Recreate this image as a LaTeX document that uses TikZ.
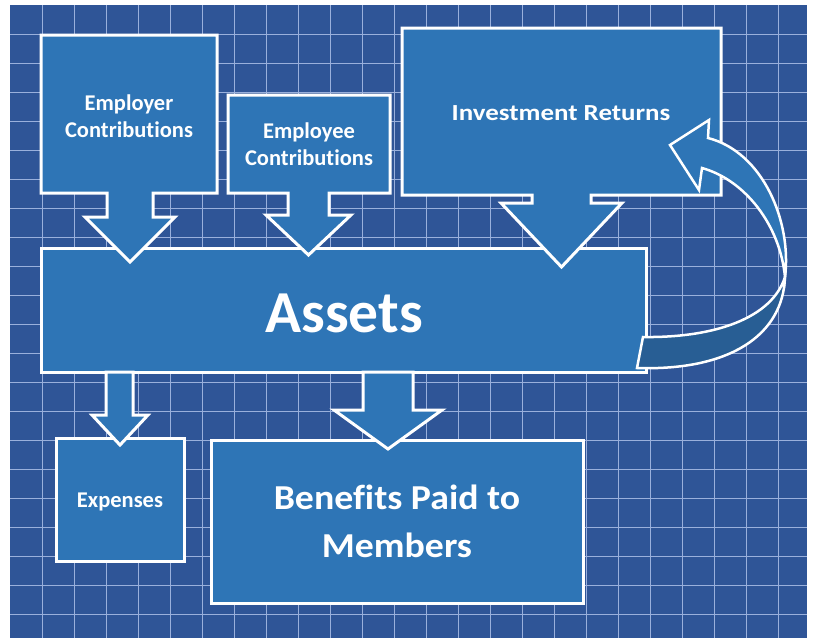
\documentclass[tikz,border=0pt]{standalone}
\usepackage{fontspec}
\setmainfont{Carlito}[Ligatures=NoCommon]
\definecolor{bgblue}{HTML}{2F5597}
\definecolor{boxblue}{HTML}{2E75B6}
\definecolor{gridline}{HTML}{9AB0DC}
\definecolor{darkband}{HTML}{285E94}
\begin{document}
\begin{tikzpicture}[x=1pt,y=-1pt,
  shapebox/.style={fill=boxblue, draw=white, line width=3pt, line join=miter},
  bandshape/.style={draw=white, line width=2.5pt, line join=miter},
  lbl/.style={text=white, inner sep=0pt, align=center, font=\bfseries\fontsize{22.5}{27}\selectfont},
  gridl/.style={draw=gridline, line width=1pt}]
\useasboundingbox (0,0) rectangle (815,638);
\fill[white] (0,0) rectangle (815,638);
\fill[bgblue] (10,5) rectangle (807,638);
\foreach \x in {42,74,...,778} \draw[gridl] (\x,5) -- (\x,638);
\foreach \y in {34,63,...,614} \draw[gridl] (10,\y) -- (807,\y);

% main boxes
\draw[shapebox] (41,248) rectangle (646,372);
\draw[shapebox] (56,438) rectangle (184,561);
\draw[shapebox] (211,440) rectangle (583,603);

% callouts into Assets
\draw[shapebox] (41,35) -- (217,35) -- (217,193) -- (153,193) -- (153,217) -- (175,217) -- (130,262)
  -- (85,217) -- (107,217) -- (107,193) -- (41,193) -- cycle;
\draw[shapebox] (228,95) -- (390,95) -- (390,193) -- (329,193) -- (329,215) -- (351,215) -- (308.5,255)
  -- (266,215) -- (288,215) -- (288,193) -- (228,193) -- cycle;
\draw[shapebox] (402,28) -- (721,28) -- (721,195) -- (591,195) -- (591,203) -- (622,203) -- (561.5,267)
  -- (501,203) -- (532,203) -- (532,195) -- (402,195) -- cycle;

% arrows out of Assets
\draw[shapebox] (106,372) -- (133,372) -- (133,415) -- (148,415) -- (120,445) -- (92,415) -- (106,415) -- cycle;
\draw[shapebox] (363,372) -- (413,372) -- (413,410) -- (442,410) -- (388,449) -- (334,410) -- (363,410) -- cycle;

% curved return arrow
\coordinate (pinch) at (785,277);
\draw[bandshape, fill=darkband] (pinch) .. controls (783,335) and (730,371) .. (637,368)
  -- (643,337) .. controls (715,338) and (772,318) .. (pinch) -- cycle;
\draw[bandshape, fill=boxblue] (pinch) .. controls (792,222) and (763,152) .. (708,138)
  -- (709,120) -- (670,145) -- (699,190) -- (702,168)
  .. controls (745,180) and (780,225) .. (pinch) -- cycle;

% labels
\node[lbl] (employer) at (129,116) {Employer\\Contributions};
\node[lbl] (employee) at (309,144) {Employee\\Contributions};
\node[lbl, anchor=base, font=\bfseries\fontsize{23}{27}\selectfont] (invest) at (561,120) {\scalebox{1.17}[1]{Investment Returns}};
\node[lbl, anchor=base] (expenses) at (120,507) {Expenses};
\node[text=white, inner sep=0pt, anchor=base, font=\bfseries\fontsize{59.5}{70}\selectfont] (assets) at (344,332) {Assets};
\node[text=white, inner sep=0pt, align=center, font=\bfseries\fontsize{35}{48}\selectfont] (benefits) at (397,521.5) {\scalebox{1.08}[1]{Benefits Paid to}\\\scalebox{1.08}[1]{Members}};
\end{tikzpicture}
\end{document}
